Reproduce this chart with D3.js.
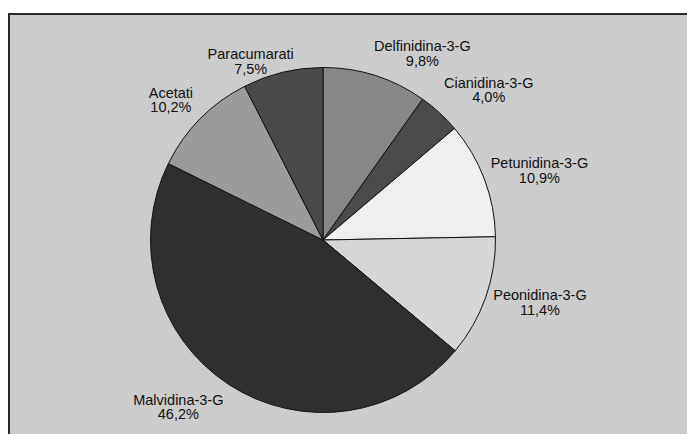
<!DOCTYPE html>
<html>
<head>
<meta charset="utf-8">
<script src="https://cdn.jsdelivr.net/npm/d3@7"></script>
<style>
  body { margin: 0; background: #fff; }
  svg { display: block; }
  text { font-family: "Liberation Sans", Arial, sans-serif; font-size: 14.5px; fill: #111; }
</style>
</head>
<body>
<svg id="chart"></svg>
<script>
// dati
const categories = ["Delfinidina-3-G", "Cianidina-3-G", "Petunidina-3-G", "Peonidina-3-G", "Malvidina-3-G", "Acetati", "Paracumarati"];
const values = [9.8, 4.0, 10.9, 11.4, 46.2, 10.2, 7.5];
const percentLabels = ["9,8%", "4,0%", "10,9%", "11,4%", "46,2%", "10,2%", "7,5%"];
const sliceColors = ["#878787", "#4b4b4b", "#efefef", "#d6d6d6", "#2f2f2f", "#9b9b9b", "#4a4a4a"];
// small manual shifts of the labels, like in the original
const labelShift = [[38, 4], [29, -3], [27, 0], [26, -7], [-34, -5], [-8, 0], [-25, 16]];

const width = 687;
const height = 434;
const cx = 323;
const cy = 240;
const radius = 172.5;

const svg = d3.select("#chart").attr("width", width).attr("height", height);

// pannello grigio (bordo destro e inferiore fuori dall'immagine)
svg.append("rect")
  .attr("x", 9)
  .attr("y", 14)
  .attr("width", width + 20)
  .attr("height", height + 20)
  .attr("fill", "#cccccc")
  .attr("stroke", "#2a2a2a")
  .attr("stroke-width", 2);

const pie = d3.pie().sort(null).value((d) => d);
const arcs = pie(values);

const arc = d3.arc().innerRadius(0).outerRadius(radius);
const labelArc = d3.arc().innerRadius(radius + 30).outerRadius(radius + 30);

const g = svg.append("g").attr("transform", `translate(${cx},${cy})`);

g.selectAll("path")
  .data(arcs)
  .enter()
  .append("path")
  .attr("d", arc)
  .attr("fill", (d, i) => sliceColors[i])
  .attr("stroke", "#111")
  .attr("stroke-width", 1)
  .attr("stroke-linejoin", "round");

// etichette
const labels = g.selectAll("text.lbl")
  .data(arcs)
  .enter()
  .append("text")
  .attr("class", "lbl")
  .attr("text-anchor", "middle")
  .attr("transform", (d, i) => {
    const [x, y] = labelArc.centroid(d);
    return `translate(${x + labelShift[i][0]},${y + labelShift[i][1]})`;
  });

labels.append("tspan").attr("x", 0).attr("y", 0).text((d, i) => categories[i]);
labels.append("tspan").attr("x", 0).attr("y", 14.5).text((d, i) => percentLabels[i]);
</script>
</body>
</html>
